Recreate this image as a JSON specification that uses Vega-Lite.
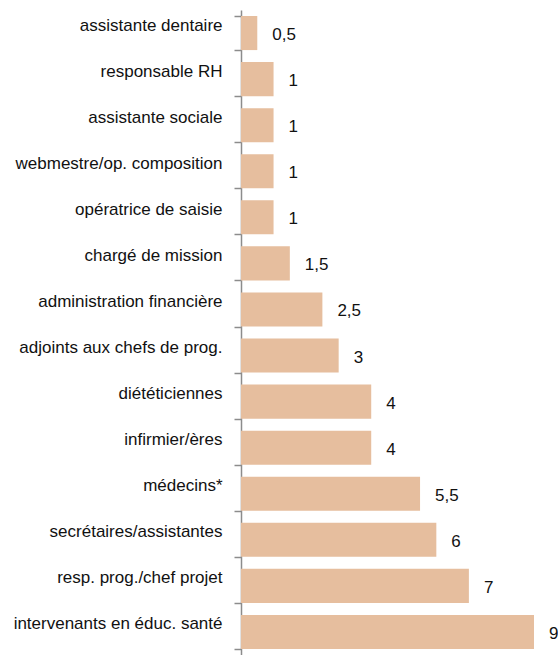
{
  "$schema": "https://vega.github.io/schema/vega-lite/v6.json",
  "autosize": "none",
  "padding": {"left": 241, "top": 10, "right": 24, "bottom": 0},
  "width": 293,
  "height": 645,
  "background": "white",
  "config": {
    "view": {"stroke": null},
    "locale": {
      "number": {"decimal": ",", "thousands": " ", "grouping": [3], "currency": ["", " €"]}
    }
  },
  "data": {
    "values": [
      {"categorie": "assistante dentaire", "valeur": 0.5},
      {"categorie": "responsable RH", "valeur": 1},
      {"categorie": "assistante sociale", "valeur": 1},
      {"categorie": "webmestre/op. composition", "valeur": 1},
      {"categorie": "opératrice de saisie", "valeur": 1},
      {"categorie": "chargé de mission", "valeur": 1.5},
      {"categorie": "administration financière", "valeur": 2.5},
      {"categorie": "adjoints aux chefs de prog.", "valeur": 3},
      {"categorie": "diététiciennes", "valeur": 4},
      {"categorie": "infirmier/ères", "valeur": 4},
      {"categorie": "médecins*", "valeur": 5.5},
      {"categorie": "secrétaires/assistantes", "valeur": 6},
      {"categorie": "resp. prog./chef projet", "valeur": 7},
      {"categorie": "intervenants en éduc. santé", "valeur": 9}
    ]
  },
  "encoding": {
    "y": {
      "field": "categorie",
      "type": "nominal",
      "sort": null,
      "scale": {"paddingInner": 0.26, "paddingOuter": 0.13},
      "axis": {
        "title": null,
        "domain": true,
        "domainColor": "#8c8c8c",
        "domainWidth": 1.5,
        "ticks": true,
        "tickBand": "extent",
        "tickColor": "#8c8c8c",
        "tickWidth": 1.5,
        "tickSize": 7,
        "labelFont": "Liberation Sans",
        "labelFontSize": 17,
        "labelColor": "#111111",
        "labelPadding": 12,
        "labelOffset": -8,
        "labelLimit": 0,
        "grid": false
      }
    },
    "x": {
      "field": "valeur",
      "type": "quantitative",
      "scale": {"domain": [0, 9], "nice": false, "zero": true},
      "axis": null
    }
  },
  "layer": [
    {"mark": {"type": "bar", "color": "#E6BE9E"}},
    {
      "mark": {
        "type": "text",
        "align": "left",
        "baseline": "middle",
        "dx": 15,
        "dy": 2,
        "font": "Liberation Sans",
        "fontSize": 17,
        "color": "#111111"
      },
      "encoding": {"text": {"field": "valeur", "type": "quantitative", "format": ".1~f"}}
    }
  ]
}
